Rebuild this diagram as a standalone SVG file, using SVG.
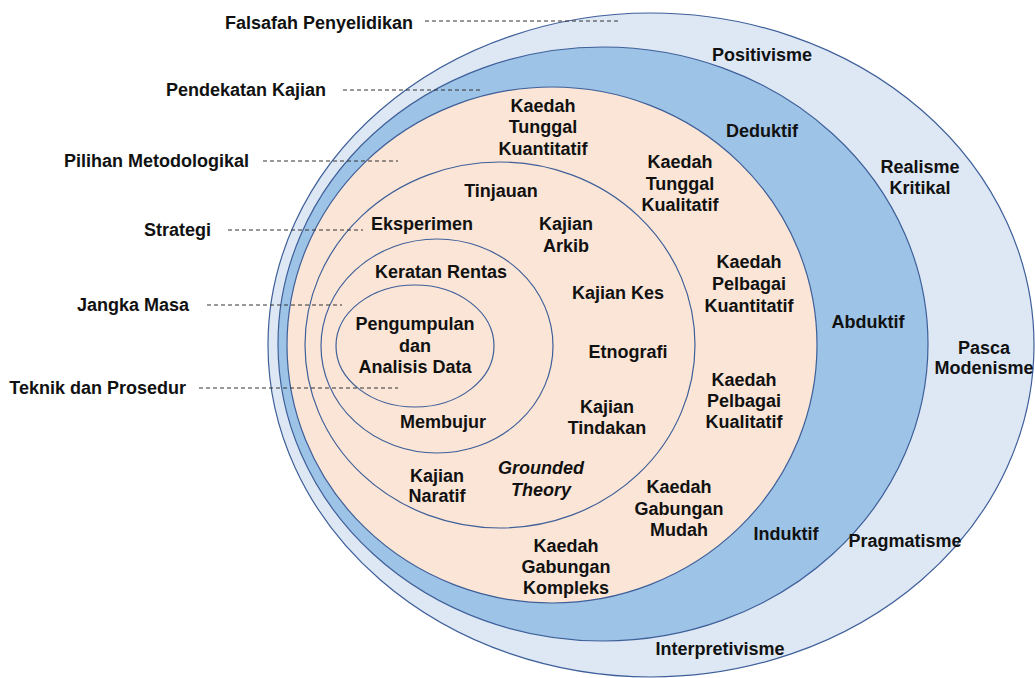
<svg xmlns="http://www.w3.org/2000/svg" width="1035" height="678" viewBox="0 0 1035 678">
  <style>
    .ring { stroke: #3e5f99; stroke-width: 1.2; }
    .lbl { font-family: "Liberation Sans", Arial, sans-serif; font-weight: bold; font-size: 18px; fill: #111; }
    .mid { text-anchor: middle; }
    .end { text-anchor: end; }
    .it { font-style: italic; }
    .dash { stroke: #333; stroke-width: 1; stroke-dasharray: 4 3; fill: none; }
  </style>

  <rect width="1035" height="678" fill="#ffffff"/>

  <!-- Onion layers -->
  <g id="layer-philosophy">
    <ellipse class="ring" cx="651" cy="345" rx="383" ry="332" fill="#dee8f5"/>
  </g>
  <g id="layer-approach">
    <ellipse class="ring" cx="603" cy="344" rx="325" ry="297" fill="#9dc3e6"/>
  </g>
  <g id="layer-methodology">
    <ellipse class="ring" cx="552" cy="345" rx="265" ry="258" fill="#fbe5d6"/>
  </g>
  <g id="layer-strategy">
    <ellipse class="ring" cx="500" cy="345" rx="195" ry="183" fill="none"/>
  </g>
  <g id="layer-time-horizon">
    <ellipse class="ring" cx="437" cy="346" rx="116" ry="107" fill="none"/>
  </g>
  <g id="layer-techniques">
    <ellipse class="ring" cx="415" cy="346" rx="79" ry="61" fill="none"/>
    <text class="lbl mid" x="415" y="330">Pengumpulan</text>
    <text class="lbl mid" x="415" y="352">dan</text>
    <text class="lbl mid" x="415" y="373">Analisis Data</text>
  </g>

  <!-- Leader lines -->
  <g id="connectors">
    <line class="dash" x1="425" y1="21" x2="618" y2="21"/>
    <line class="dash" x1="343" y1="90" x2="480" y2="90"/>
    <line class="dash" x1="263" y1="161" x2="398" y2="161"/>
    <line class="dash" x1="228" y1="230" x2="363" y2="230"/>
    <line class="dash" x1="207" y1="305" x2="342" y2="305"/>
    <line class="dash" x1="199" y1="388" x2="398" y2="388"/>
  </g>

  <!-- Layer names -->
  <g id="legend">
    <text class="lbl end" x="413" y="29">Falsafah Penyelidikan</text>
    <text class="lbl end" x="326" y="96">Pendekatan Kajian</text>
    <text class="lbl end" x="249" y="167">Pilihan Metodologikal</text>
    <text class="lbl end" x="211" y="236">Strategi</text>
    <text class="lbl end" x="189" y="311">Jangka Masa</text>
    <text class="lbl end" x="186" y="394">Teknik dan Prosedur</text>
  </g>

  <!-- Philosophies -->
  <g id="philosophies">
    <text class="lbl mid" x="762" y="61">Positivisme</text>
    <text class="lbl mid" x="920" y="173">Realisme</text>
    <text class="lbl mid" x="920" y="194">Kritikal</text>
    <text class="lbl mid" x="984" y="354">Pasca</text>
    <text class="lbl mid" x="984" y="374">Modenisme</text>
    <text class="lbl mid" x="905" y="547">Pragmatisme</text>
    <text class="lbl mid" x="720" y="655">Interpretivisme</text>
  </g>

  <!-- Approaches -->
  <g id="approaches">
    <text class="lbl mid" x="762" y="137">Deduktif</text>
    <text class="lbl mid" x="868" y="328">Abduktif</text>
    <text class="lbl mid" x="786" y="540">Induktif</text>
  </g>

  <!-- Methodological choices -->
  <g id="methods">
    <text class="lbl mid" x="543" y="112">Kaedah</text>
    <text class="lbl mid" x="543" y="133">Tunggal</text>
    <text class="lbl mid" x="543" y="155">Kuantitatif</text>

    <text class="lbl mid" x="680" y="168">Kaedah</text>
    <text class="lbl mid" x="680" y="190">Tunggal</text>
    <text class="lbl mid" x="680" y="211">Kualitatif</text>

    <text class="lbl mid" x="749" y="268">Kaedah</text>
    <text class="lbl mid" x="749" y="290">Pelbagai</text>
    <text class="lbl mid" x="749" y="312">Kuantitatif</text>

    <text class="lbl mid" x="744" y="386">Kaedah</text>
    <text class="lbl mid" x="744" y="407">Pelbagai</text>
    <text class="lbl mid" x="744" y="428">Kualitatif</text>

    <text class="lbl mid" x="679" y="493">Kaedah</text>
    <text class="lbl mid" x="679" y="515">Gabungan</text>
    <text class="lbl mid" x="679" y="536">Mudah</text>

    <text class="lbl mid" x="566" y="552">Kaedah</text>
    <text class="lbl mid" x="566" y="573">Gabungan</text>
    <text class="lbl mid" x="566" y="594">Kompleks</text>
  </g>

  <!-- Strategies -->
  <g id="strategies">
    <text class="lbl mid" x="501" y="197">Tinjauan</text>
    <text class="lbl mid" x="422" y="230">Eksperimen</text>
    <text class="lbl mid" x="566" y="230">Kajian</text>
    <text class="lbl mid" x="566" y="252">Arkib</text>
    <text class="lbl mid" x="618" y="299">Kajian Kes</text>
    <text class="lbl mid" x="628" y="358">Etnografi</text>
    <text class="lbl mid" x="607" y="413">Kajian</text>
    <text class="lbl mid" x="607" y="434">Tindakan</text>
    <text class="lbl mid it" x="541" y="474">Grounded</text>
    <text class="lbl mid it" x="541" y="496">Theory</text>
    <text class="lbl mid" x="437" y="482">Kajian</text>
    <text class="lbl mid" x="437" y="502">Naratif</text>
  </g>

  <!-- Time horizons -->
  <g id="time-horizons">
    <text class="lbl mid" x="441" y="278">Keratan Rentas</text>
    <text class="lbl mid" x="443" y="428">Membujur</text>
  </g>
</svg>
